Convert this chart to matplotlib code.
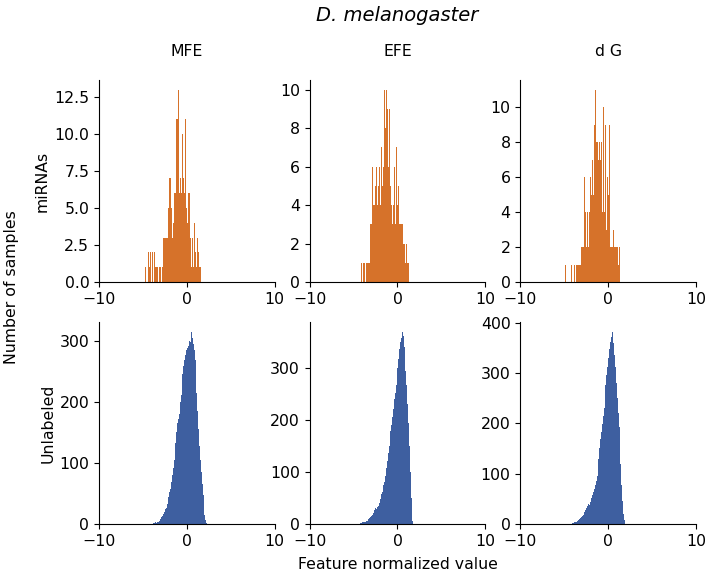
import numpy as np
import matplotlib
matplotlib.use("Agg")
import matplotlib.pyplot as plt

# bin width used for every histogram
bin_width = 0.1

# miRNA histograms: left edge of first bin + counts per bin
mfe_mirna_start = -4.8
mfe_mirna = [1, 0, 0, 0, 2, 1, 2, 0, 2, 1, 0, 2, 1, 1, 1, 0, 1, 1, 1, 0,
             1, 3, 3, 3, 3, 3, 4, 5, 7, 7, 5, 3, 4, 6, 10, 6, 11, 11, 13, 6,
             7, 6, 6, 10, 7, 6, 11, 5, 4, 6, 10, 6, 3, 1, 3, 1, 4, 2, 3, 1,
             3, 2, 1, 1]
efe_mirna_start = -5.0
efe_mirna = [1, 0, 0, 0, 0, 0, 0, 0, 0, 1, 0, 1, 1, 0, 1, 1, 1, 1, 1, 3,
             3, 6, 4, 4, 5, 4, 6, 4, 5, 6, 4, 7, 5, 10, 6, 10, 8, 10, 9, 6,
             9, 10, 5, 4, 3, 4, 6, 3, 7, 7, 4, 5, 3, 3, 3, 3, 2, 2, 2, 1,
             2, 1, 1]
dg_mirna_start = -4.9
dg_mirna = [1, 0, 0, 0, 0, 0, 0, 1, 0, 0, 1, 0, 1, 1, 1, 1, 1, 1, 2, 2,
            2, 7, 6, 4, 2, 4, 2, 4, 6, 3, 5, 7, 5, 9, 11, 8, 8, 9, 7, 8,
            7, 8, 4, 10, 4, 6, 9, 3, 6, 5, 9, 2, 2, 2, 5, 3, 2, 2, 2, 2,
            1, 2, 1]

# unlabeled histograms
mfe_unlab_start = -3.8
mfe_unlab = [1, 2, 3, 2, 4, 3, 5, 6, 8, 11, 13, 16, 20, 24, 27, 32, 38, 45, 52, 58,
             68, 80, 92, 105, 118, 132, 150, 165, 172, 180, 200, 212, 230, 245, 258, 268, 276, 285, 288, 292,
             296, 300, 298, 315, 305, 295, 285, 268, 245, 215, 185, 155, 128, 105, 85, 66, 48, 30, 15, 6,
             2]
efe_unlab_start = -4.3
efe_unlab = [1, 2, 2, 3, 3, 4, 4, 5, 6, 8, 9, 11, 13, 15, 18, 22, 26, 30, 31, 28,
             33, 34, 40, 48, 58, 62, 68, 75, 80, 92, 108, 122, 137, 150, 162, 178, 190, 205, 222, 240,
             252, 268, 285, 300, 318, 337, 350, 358, 370, 362, 340, 322, 295, 268, 230, 195, 150, 100, 50, 20,
             6]
dg_unlab_start = -4.2
dg_unlab = [1, 2, 2, 3, 3, 4, 4, 5, 7, 9, 11, 13, 15, 17, 21, 24, 28, 32, 36, 40,
            38, 44, 46, 52, 58, 64, 70, 78, 86, 95, 110, 130, 150, 168, 182, 198, 215, 230, 255, 275,
            295, 312, 330, 348, 362, 372, 382, 378, 360, 335, 312, 280, 250, 220, 192, 160, 120, 78, 45, 20,
            8]

features = ["MFE", "EFE", "d G"]
row_names = ["miRNAs", "Unlabeled"]
orange = "#D6722A"
blue = "#3E5FA0"
fs = 11.3

data = [[(mfe_mirna_start, mfe_mirna), (efe_mirna_start, efe_mirna), (dg_mirna_start, dg_mirna)],
        [(mfe_unlab_start, mfe_unlab), (efe_unlab_start, efe_unlab), (dg_unlab_start, dg_unlab)]]

fig, axes = plt.subplots(2, 3, figsize=(7.06, 5.74), dpi=100)
fig.subplots_adjust(left=0.1402, right=0.9858, top=0.8606, bottom=0.0871,
                    wspace=0.199, hspace=0.198)

for r in range(2):
    for c in range(3):
        ax = axes[r, c]
        start, counts = data[r][c]
        counts = np.array(counts, dtype=float)
        edges = start + bin_width * np.arange(len(counts) + 1)
        centers = edges[:-1] + bin_width / 2
        ax.hist(centers, bins=edges, weights=counts,
                color=orange if r == 0 else blue, linewidth=0)
        ax.set_xlim(-10, 10)
        ax.set_xticks([-10, 0, 10])
        ax.spines["top"].set_visible(False)
        ax.spines["right"].set_visible(False)
        ax.tick_params(labelsize=fs)
        if r == 0:
            ax.set_title(features[c], fontsize=fs, pad=17)
        if c == 0:
            ax.set_ylabel(row_names[r], fontsize=fs, labelpad=3)

axes[0, 0].set_yticks([0, 2.5, 5, 7.5, 10, 12.5])
axes[0, 1].set_yticks([0, 2, 4, 6, 8, 10])
axes[0, 2].set_yticks([0, 2, 4, 6, 8, 10])
axes[1, 0].set_yticks([0, 100, 200, 300])
axes[1, 1].set_yticks([0, 100, 200, 300])
axes[1, 2].set_yticks([0, 100, 200, 300, 400])
axes[1, 2].set_ylim(0, 401)

fig.suptitle("D. melanogaster", x=0.563, y=0.99, fontsize=14, style="italic")
fig.text(0.016, 0.5, "Number of samples", rotation=90, ha="center", va="center", fontsize=fs)
fig.text(0.563, 0.017, "Feature normalized value", ha="center", va="center", fontsize=fs)

fig.savefig("out.png", dpi=100)
